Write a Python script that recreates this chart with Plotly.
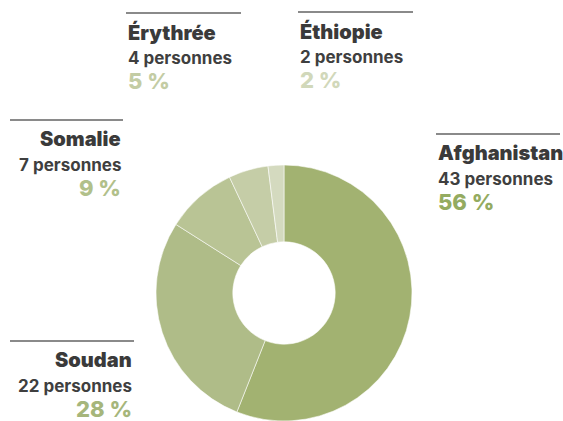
import plotly.graph_objects as go

W, H = 563, 421

countries = ["Afghanistan", "Soudan", "Somalie", "Érythrée", "Éthiopie"]
persons = [43, 22, 7, 4, 2]
percents = [56, 28, 9, 5, 2]
slice_colors = ["#a2b271", "#afbc88", "#b9c495", "#c5cda7", "#d4dabf"]
pct_colors = ["#94ab60", "#a6b67b", "#b1c08a", "#c3cca4", "#d1d8ba"]

# label block placement (px): x of line start/end, y of line, alignment
blocks = {
    "Afghanistan": dict(x0=436, x1=560, y=134, align="left"),
    "Soudan":      dict(x0=10, x1=134, y=341, align="right"),
    "Somalie":     dict(x0=10, x1=123, y=120, align="right"),
    "Érythrée":    dict(x0=126, x1=241, y=13, align="left"),
    "Éthiopie":    dict(x0=298, x1=413, y=12, align="left"),
}


def px(x):
    return x / W


def py(y):
    return 1 - y / H


fig = go.Figure()
fig.add_trace(go.Pie(
    labels=countries,
    values=percents,
    customdata=persons,
    hole=0.4,
    sort=False,
    direction="clockwise",
    rotation=0,
    marker=dict(colors=slice_colors, line=dict(color="rgba(255,255,255,0.7)", width=0.8)),
    textinfo="none",
    hovertemplate="%{label}: %{customdata} personnes (%{value} %)<extra></extra>",
    domain=dict(x=[px(156), px(412)], y=[0, py(165)]),
    showlegend=False,
))

shapes = []
annotations = []
for name, n, pct, col in zip(countries, persons, percents, pct_colors):
    b = blocks[name]
    shapes.append(dict(
        type="line", xref="paper", yref="paper",
        x0=px(b["x0"]), x1=px(b["x1"]), y0=py(b["y"]), y1=py(b["y"]),
        line=dict(color="#8a8a8a", width=2),
    ))
    xa = b["x0"] if b["align"] == "left" else b["x1"]
    rows = [
        (name, 19, 20, "#3a3a3a", 900),
        (f"{n} personnes", 45, 17, "#3f3f3f", 700),
        (f"{pct} %", 68, 22, col, 800),
    ]
    for text, dy, size, color, weight in rows:
        annotations.append(dict(
            text=text, xref="paper", yref="paper",
            x=px(xa), y=py(b["y"] + dy),
            xanchor=b["align"], yanchor="middle", showarrow=False,
            font=dict(family="Inter, Lato, sans-serif", size=size, color=color, weight=weight),
        ))

fig.update_layout(
    width=W, height=H,
    margin=dict(l=0, r=0, t=0, b=0),
    paper_bgcolor="white",
    plot_bgcolor="white",
    shapes=shapes,
    annotations=annotations,
)

fig.write_html("out.html", config={"displayModeBar": False},
               post_script="document.body.style.margin='0';")
